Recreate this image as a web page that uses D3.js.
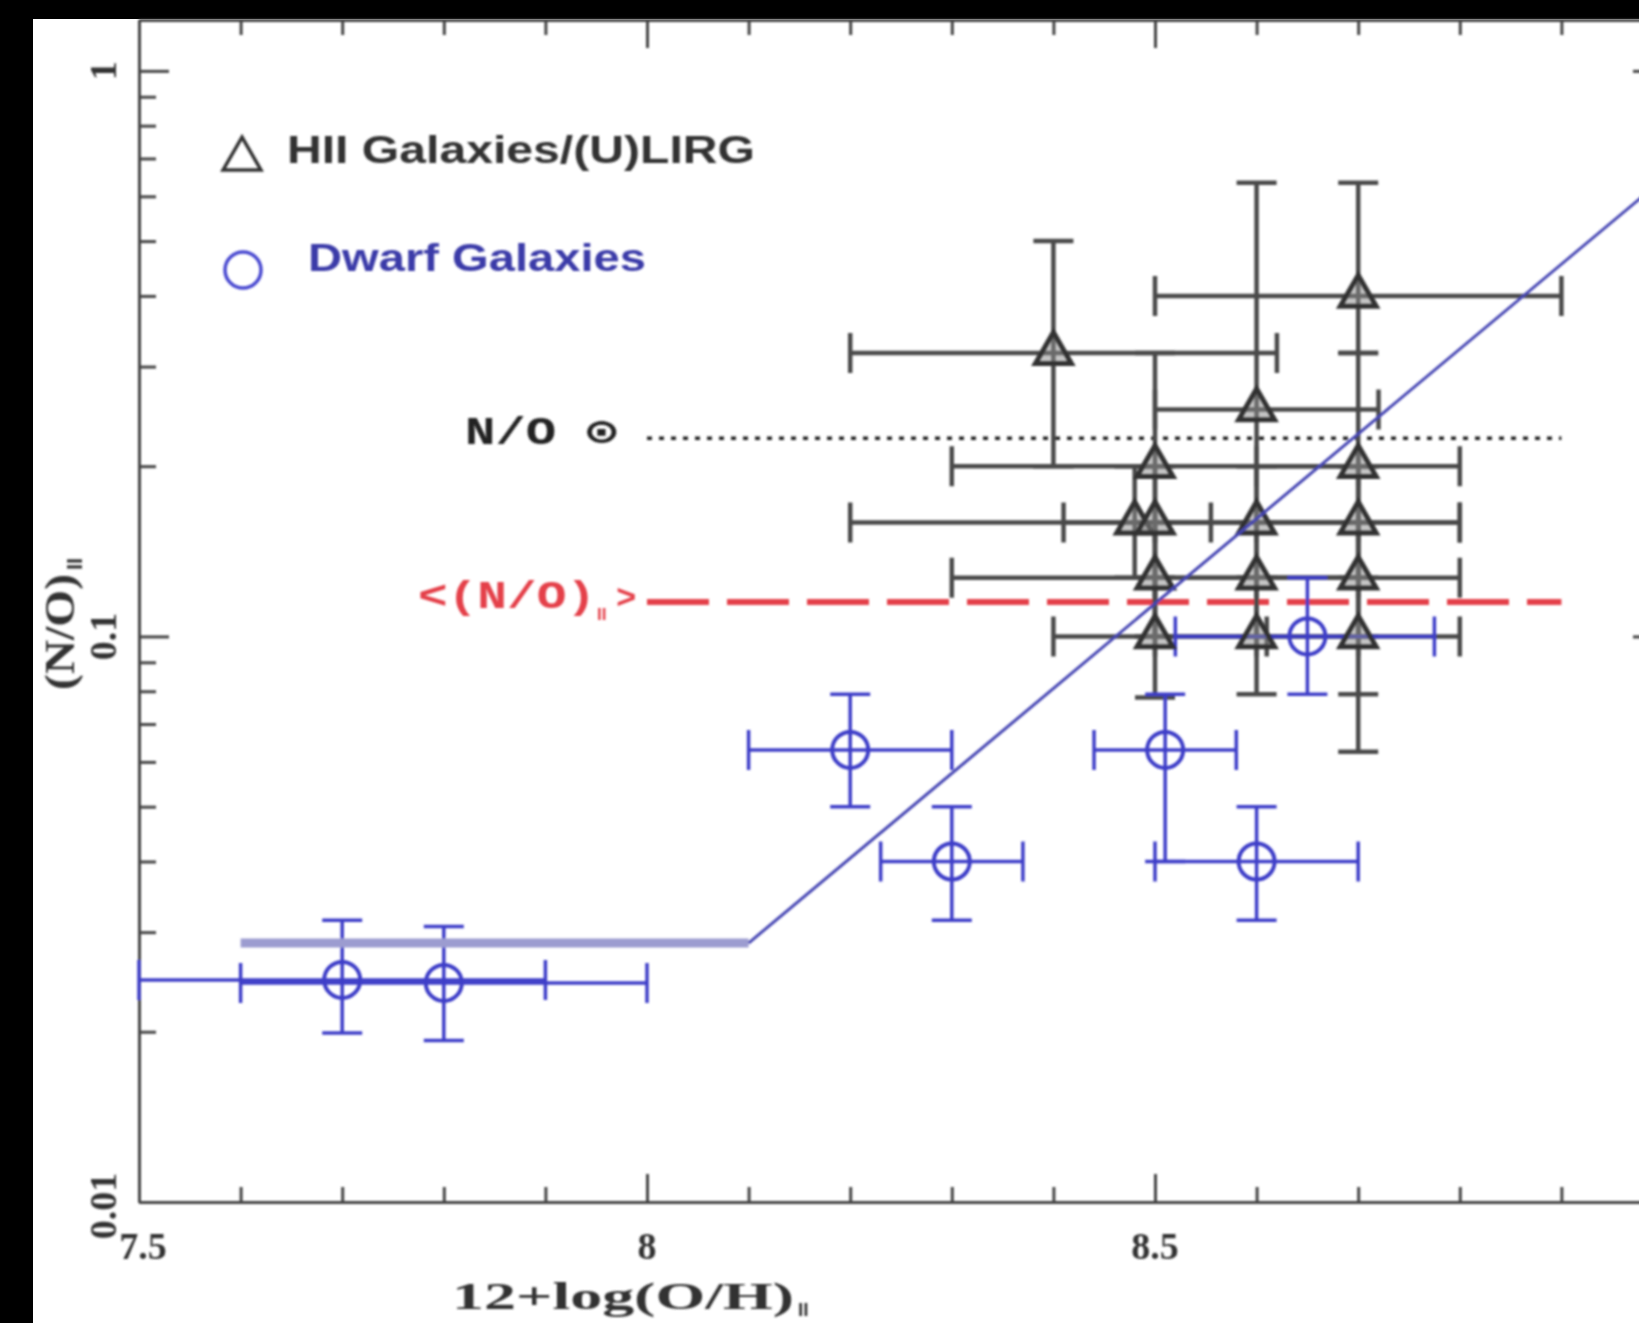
<!DOCTYPE html>
<html>
<head>
<meta charset="utf-8">
<script src="https://cdn.jsdelivr.net/npm/d3@7"></script>
<style>
  body { margin: 0; background: #000; }
  svg { display: block; }
</style>
</head>
<body>
<script>
// HII galaxies / (U)LIRG (triangles)
var hiiOH   = [8.40, 8.70, 8.60, 8.50, 8.70, 8.48, 8.50, 8.60, 8.70, 8.50, 8.60, 8.70, 8.50, 8.60, 8.70];
var hiiNO   = [0.317, 0.40, 0.252, 0.20, 0.20, 0.159, 0.159, 0.159, 0.159, 0.127, 0.127, 0.127, 0.100, 0.100, 0.100];
var hiiOHlo = [8.20, 8.50, 8.50, 8.30, 8.60, 8.41, 8.20, 8.50, 8.60, 8.30, 8.50, 8.60, 8.40, 8.50, 8.60];
var hiiOHhi = [8.62, 8.90, 8.72, 8.70, 8.80, 8.555, 8.80, 8.70, 8.80, 8.70, 8.70, 8.80, 8.61, 8.70, 8.80];
var hiiNOlo = [0.20, 0.317, 0.159, 0.127, 0.127, 0.127, 0.10, 0.127, 0.10, 0.10, 0.10, 0.079, 0.078, 0.079, 0.0625];
var hiiNOhi = [0.50, 0.634, 0.634, 0.317, 0.317, 0.20, 0.20, 0.20, 0.20, 0.159, 0.159, 0.20, 0.127, 0.127, 0.159];

// dwarf galaxies (circles)
var dwOH   = [8.65, 8.20, 8.30, 8.51, 8.60, 7.70, 7.80];
var dwNO   = [0.100, 0.063, 0.040, 0.063, 0.040, 0.0247, 0.0244];
var dwOHlo = [8.52, 8.10, 8.23, 8.44, 8.50, 7.50, 7.60];
var dwOHhi = [8.775, 8.30, 8.37, 8.58, 8.70, 7.90, 8.00];
var dwNOlo = [0.079, 0.050, 0.0315, 0.040, 0.0315, 0.0199, 0.0193];
var dwNOhi = [0.127, 0.079, 0.050, 0.079, 0.050, 0.0315, 0.0307];

// model: flat plateau then rising branch
var plateauOH = [7.6, 8.1];
var plateauNO = [0.0287, 0.0287];
var slopeOH = [8.1, 9.0];
var slopeNO = [0.0287, 0.643];

// reference levels
var solarNO = 0.224;
var meanNO = 0.115;
var refOH = [8.0, 8.9];

var xTickLabels = ["7.5", "8", "8.5"];
var yTickLabels = ["0.01", "0.1", "1"];

var width = 1639,
	height = 1323;

var svg = d3.select("body").append("svg")
	.attr("width", width)
	.attr("height", height);

svg.append("rect")
	.attr("width", width)
	.attr("height", height)
	.attr("fill", "#000");

svg.append("rect")
	.attr("x", 33)
	.attr("y", 19)
	.attr("width", width - 33)
	.attr("height", height - 19)
	.attr("fill", "#fff");

var defs = svg.append("defs");
defs.append("filter")
	.attr("id", "soft")
	.append("feGaussianBlur")
	.attr("stdDeviation", 0.9);

var g = svg.append("g").attr("filter", "url(#soft)");

var x = d3.scaleLinear().domain([7.5, 9.0]).range([139, 1663]);
var y = d3.scaleLog().domain([0.01, 1.23]).range([1202, 20]);

// axes, ticks pointing inward on all four sides
var xMajor = [7.5, 8, 8.5, 9];
var xMinor = d3.range(7.6, 9.0, 0.1).filter(function(v) {
	return Math.abs(v * 2 - Math.round(v * 2)) > 0.01;
});
var yMajor = [0.01, 0.1, 1];
var yMinor = [];
[0.01, 0.1].forEach(function(p) {
	for (var k = 2; k <= 9; k++) yMinor.push(k * p);
});

function styleAxis(sel) {
	sel.selectAll("path, line")
		.attr("stroke", "#444")
		.attr("stroke-width", 3);
}

var axes = [
	{ gen: d3.axisBottom, scale: x, t: "translate(0,1202)", major: xMajor, minor: xMinor, big: 28, small: 15 },
	{ gen: d3.axisTop, scale: x, t: "translate(0,20)", major: xMajor, minor: xMinor, big: 28, small: 15 },
	{ gen: d3.axisLeft, scale: y, t: "translate(139,0)", major: yMajor, minor: yMinor, big: 30, small: 17 },
	{ gen: d3.axisRight, scale: y, t: "translate(1663,0)", major: yMajor, minor: yMinor, big: 30, small: 17 }
];

axes.forEach(function(a) {
	g.append("g")
		.attr("transform", a.t)
		.call(a.gen(a.scale).tickValues(a.minor).tickSize(-a.small).tickSizeOuter(0).tickFormat(""))
		.call(styleAxis);
	g.append("g")
		.attr("transform", a.t)
		.call(a.gen(a.scale).tickValues(a.major).tickSize(-a.big).tickSizeOuter(0).tickFormat(""))
		.call(styleAxis);
});

// tick labels
g.selectAll(".xlab")
	.data(xTickLabels)
	.enter()
	.append("text")
	.attr("x", function(d) { return x(+d) + (d === "7.5" ? 4 : 0); })
	.attr("y", 1259)
	.attr("text-anchor", "middle")
	.attr("font-family", "Liberation Serif, serif")
	.attr("font-size", 38)
	.attr("font-weight", "bold")
	.attr("fill", "#333")
	.text(function(d) { return d; });

g.selectAll(".ylab")
	.data(yTickLabels)
	.enter()
	.append("text")
	.attr("transform", function(d) { return "translate(116," + (y(+d) + (d === "0.01" ? 4 : 0)) + ") rotate(-90)"; })
	.attr("text-anchor", "middle")
	.attr("font-family", "Liberation Serif, serif")
	.attr("font-size", 38)
	.attr("font-weight", "bold")
	.attr("fill", "#333")
	.text(function(d) { return d; });

// axis titles
var yTitle = g.append("g").attr("transform", "translate(74,690) rotate(-90)");
yTitle.append("text")
	.attr("font-family", "Liberation Serif, serif")
	.attr("font-size", 42)
	.attr("font-weight", "bold")
	.attr("fill", "#333")
	.attr("textLength", 116)
	.attr("lengthAdjust", "spacingAndGlyphs")
	.text("(N/O)");
yTitle.append("text")
	.attr("x", 120)
	.attr("y", 8)
	.attr("font-family", "Liberation Sans, sans-serif")
	.attr("font-size", 22)
	.attr("font-weight", "bold")
	.attr("fill", "#333")
	.text("II");

g.append("text")
	.attr("x", 452)
	.attr("y", 1309)
	.attr("font-family", "Liberation Serif, serif")
	.attr("font-size", 38)
	.attr("font-weight", "bold")
	.attr("fill", "#333")
	.attr("textLength", 342)
	.attr("lengthAdjust", "spacingAndGlyphs")
	.text("12+log(O/H)");
g.append("text")
	.attr("x", 798)
	.attr("y", 1316)
	.attr("font-family", "Liberation Sans, sans-serif")
	.attr("font-size", 19)
	.attr("font-weight", "bold")
	.attr("fill", "#333")
	.text("II");

// reference levels
g.append("line")
	.attr("x1", x(refOH[0])).attr("x2", x(refOH[1]))
	.attr("y1", y(solarNO)).attr("y2", y(solarNO))
	.attr("stroke", "#222")
	.attr("stroke-width", 3.5)
	.attr("stroke-dasharray", "5,7");

g.append("line")
	.attr("x1", x(refOH[0])).attr("x2", x(refOH[1]))
	.attr("y1", y(meanNO)).attr("y2", y(meanNO))
	.attr("stroke", "#e4404a")
	.attr("stroke-width", 6)
	.attr("stroke-dasharray", "62,18");

g.append("text")
	.attr("x", 465)
	.attr("y", 444)
	.attr("font-family", "Liberation Mono, monospace")
	.attr("font-size", 38)
	.attr("font-weight", "bold")
	.attr("fill", "#222")
	.attr("textLength", 152)
	.attr("lengthAdjust", "spacingAndGlyphs")
	.text("N/O  \u2299");

g.append("text")
	.attr("x", 418)
	.attr("y", 608)
	.attr("font-family", "Liberation Mono, monospace")
	.attr("font-size", 38)
	.attr("font-weight", "bold")
	.attr("fill", "#e4404a")
	.attr("textLength", 178)
	.attr("lengthAdjust", "spacingAndGlyphs")
	.text("<(N/O)");
g.append("text")
	.attr("x", 597)
	.attr("y", 620)
	.attr("font-family", "Liberation Sans, sans-serif")
	.attr("font-size", 17)
	.attr("font-weight", "bold")
	.attr("fill", "#e4404a")
	.text("II");
g.append("text")
	.attr("x", 616)
	.attr("y", 608)
	.attr("font-family", "Liberation Mono, monospace")
	.attr("font-size", 34)
	.attr("font-weight", "bold")
	.attr("fill", "#e4404a")
	.text(">");

// error bars
function drawBars(cls, ox, oy, lox, hix, loy, hiy, color, sw, cap) {
	var idx = d3.range(ox.length);
	var grp = g.append("g").attr("class", cls)
		.attr("stroke", color)
		.attr("stroke-width", sw)
		.attr("fill", "none");
	idx.forEach(function(i) {
		var cx = x(ox[i]), cy = y(oy[i]);
		var x0 = x(lox[i]), x1 = x(hix[i]);
		var y0 = y(loy[i]), y1 = y(hiy[i]);
		grp.append("path")
			.attr("d", "M" + x0 + "," + cy + "H" + x1 +
				"M" + x0 + "," + (cy - cap) + "V" + (cy + cap) +
				"M" + x1 + "," + (cy - cap) + "V" + (cy + cap) +
				"M" + cx + "," + y0 + "V" + y1 +
				"M" + (cx - cap) + "," + y0 + "H" + (cx + cap) +
				"M" + (cx - cap) + "," + y1 + "H" + (cx + cap));
	});
}

drawBars("hii-bars", hiiOH, hiiNO, hiiOHlo, hiiOHhi, hiiNOlo, hiiNOhi, "#4a4a4a", 4.5, 20);
drawBars("dw-bars", dwOH, dwNO, dwOHlo, dwOHhi, dwNOlo, dwNOhi, "#3c3cc8", 3.5, 20);

// markers
var tri = d3.symbol().type(d3.symbolTriangle).size(560);

g.append("g")
	.selectAll("path")
	.data(d3.range(hiiOH.length))
	.enter()
	.append("path")
	.attr("d", tri)
	.attr("transform", function(i) { return "translate(" + x(hiiOH[i]) + "," + y(hiiNO[i]) + ")"; })
	.attr("fill", "#8a8a8a")
	.attr("fill-opacity", 0.5)
	.attr("stroke", "#333")
	.attr("stroke-width", 5);

g.append("g")
	.selectAll("circle")
	.data(d3.range(dwOH.length))
	.enter()
	.append("circle")
	.attr("cx", function(i) { return x(dwOH[i]); })
	.attr("cy", function(i) { return y(dwNO[i]); })
	.attr("r", 18)
	.attr("fill", "none")
	.attr("stroke", "#3c3cc8")
	.attr("stroke-width", 4);

// model curve
var line = d3.line()
	.x(function(d) { return x(d[0]); })
	.y(function(d) { return y(d[1]); });

g.append("path")
	.datum(d3.zip(plateauOH, plateauNO))
	.attr("d", line)
	.attr("fill", "none")
	.attr("stroke", "#9c9cd0")
	.attr("stroke-width", 9);

g.append("path")
	.datum(d3.zip(slopeOH, slopeNO))
	.attr("d", line)
	.attr("fill", "none")
	.attr("stroke", "#4646b4")
	.attr("stroke-width", 3);

// legend
g.append("path")
	.attr("d", d3.symbol().type(d3.symbolTriangle).size(620))
	.attr("transform", "translate(242,159)")
	.attr("fill", "none")
	.attr("stroke", "#333")
	.attr("stroke-width", 3.5);

g.append("text")
	.attr("x", 287)
	.attr("y", 163)
	.attr("font-family", "Liberation Sans, sans-serif")
	.attr("font-size", 38)
	.attr("font-weight", "bold")
	.attr("fill", "#333")
	.attr("textLength", 468)
	.attr("lengthAdjust", "spacingAndGlyphs")
	.text("HII Galaxies/(U)LIRG");

g.append("circle")
	.attr("cx", 243)
	.attr("cy", 270)
	.attr("r", 18)
	.attr("fill", "none")
	.attr("stroke", "#4848d0")
	.attr("stroke-width", 3.5);

g.append("text")
	.attr("x", 308)
	.attr("y", 271)
	.attr("font-family", "Liberation Sans, sans-serif")
	.attr("font-size", 38)
	.attr("font-weight", "bold")
	.attr("fill", "#3a3aa8")
	.attr("textLength", 338)
	.attr("lengthAdjust", "spacingAndGlyphs")
	.text("Dwarf Galaxies");
</script>
</body>
</html>
